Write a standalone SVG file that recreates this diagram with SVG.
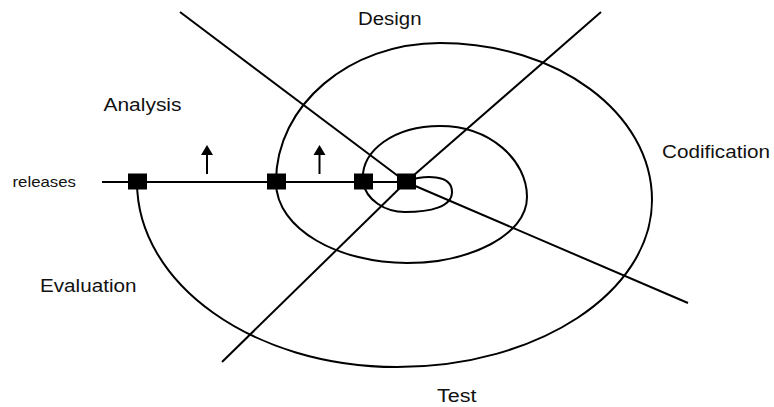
<svg xmlns="http://www.w3.org/2000/svg" width="774" height="407" viewBox="0 0 774 407">
  <style>
    .ln { fill: none; stroke: #000; stroke-width: 2; stroke-linecap: butt; }
    .sp { fill: none; stroke: #000; stroke-width: 2; }
    .big { font-family: "Liberation Sans", Arial, sans-serif; font-size: 17.5px; fill: #111; }
    .small { font-family: "Liberation Sans", Arial, sans-serif; font-size: 15px; fill: #111; }
    .sq { fill: #000; }
  </style>
  <defs>
    <marker id="ah" viewBox="0 0 12 10" refX="6" refY="0" markerWidth="12" markerHeight="10" markerUnits="userSpaceOnUse" orient="auto-start-reverse">
      <path d="M0,10 L6,0 L12,10 Z" fill="#000"/>
    </marker>
  </defs>
  <rect width="774" height="407" fill="#fff"/>

  <g id="axes">
    <line class="ln" x1="180" y1="12" x2="406" y2="182"/>
    <line class="ln" x1="406" y1="182" x2="688" y2="303"/>
    <line class="ln" x1="601" y1="12" x2="406" y2="182"/>
    <line class="ln" x1="406" y1="182" x2="222" y2="362"/>
    <line class="ln" x1="102" y1="182" x2="406" y2="182"/>
  </g>

  <g id="spiral">
    <path class="sp" d="M406,181 C425,175 452,174 452,192 C452,207 430,212 405,212 C385,212 366,200 363,182"/>
    <path class="sp" d="M363,182 C360,150 395,126 440,126 C490,126 527,160 527,197 C527,235 470,263 407,263 C340,263 276,230 276,182"/>
    <path class="sp" d="M276,182 C276,105 349.5,43 440,43 C557,43 652,113 652,200 C652,292 538,367 397,367 C253.5,367 137,284 137,182"/>
  </g>

  <g id="releases">
    <rect class="sq" x="128" y="173.5" width="19" height="16"/>
    <rect class="sq" x="267" y="173.5" width="19" height="16"/>
    <rect class="sq" x="354" y="173.5" width="19" height="16"/>
    <rect class="sq" x="397" y="173.5" width="19" height="16"/>
  </g>

  <g id="arrows">
    <line class="ln" x1="207" y1="174" x2="207" y2="153" stroke-width="1.5"/>
    <path d="M201,155 L207,145 L213,155 Z" fill="#000"/>
    <line class="ln" x1="319.5" y1="174" x2="319.5" y2="153" stroke-width="1.5"/>
    <path d="M313.5,155 L319.5,145 L325.5,155 Z" fill="#000"/>
  </g>

  <g id="labels">
    <text class="big" x="358" y="25" textLength="63.5" lengthAdjust="spacingAndGlyphs">Design</text>
    <text class="big" x="103.5" y="110.7" textLength="78" lengthAdjust="spacingAndGlyphs">Analysis</text>
    <text class="big" x="662" y="158" textLength="108" lengthAdjust="spacingAndGlyphs">Codification</text>
    <text class="small" x="12.5" y="186.7" textLength="63.5" lengthAdjust="spacingAndGlyphs">releases</text>
    <text class="big" x="40" y="291.7" textLength="96.5" lengthAdjust="spacingAndGlyphs">Evaluation</text>
    <text class="big" x="437" y="401.5" textLength="39.5" lengthAdjust="spacingAndGlyphs">Test</text>
  </g>
</svg>
